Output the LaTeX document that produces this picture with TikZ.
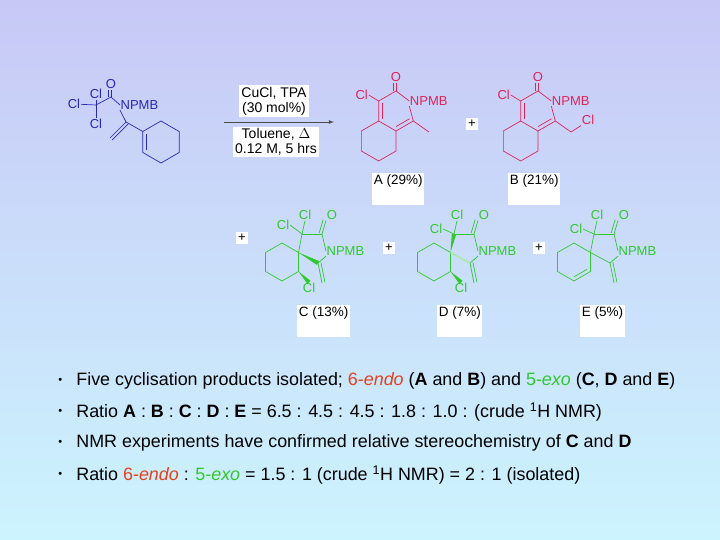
\documentclass[tikz,border=0pt]{standalone}
\usepackage{fontspec}
\setmainfont{Liberation Sans}
\usetikzlibrary{calc}
\definecolor{mblue}{HTML}{2828B8}
\definecolor{mred}{HTML}{E0245A}
\definecolor{mgreen}{HTML}{30C830}
\definecolor{lgreen}{HTML}{A8E8B0}
\definecolor{orng}{HTML}{E8401C}
\definecolor{bgtop}{HTML}{C8C8F6}
\definecolor{bgbot}{HTML}{CCF4FE}
\newcommand\hexat[3]{\foreach \k in {0,...,5}{\pgfmathsetmacro\ang{270+60*\k}\coordinate (#1\k) at ($(#2)+(\ang:#3)$);}}
\newcommand\dbl[2]{\draw (#1)--(#2); \draw ($(#1)!3pt!90:(#2)$)--($(#2)!3pt!-90:(#1)$);}
\newcommand\innerb[3]{\draw ($(#1)!0.22!(#3)$)--($(#2)!0.22!(#3)$);}
\newcommand\wdg[3]{\fill[#3] (#1) -- ($(#2)!2.2pt!90:(#1)$) -- ($(#2)!2.2pt!-90:(#1)$) -- cycle;}
\tikzset{
 atm/.style={inner sep=0.6pt,font=\fontsize{13}{13}\selectfont},
 atmw/.style={atm,anchor=west,inner sep=0.3pt},
 wbox/.style={fill=white,inner sep=2pt,font=\fontsize{14}{15}\selectfont,align=center},
 lbox/.style={fill=white,anchor=north west,inner sep=1.5pt,font=\fontsize{13.5}{15}\selectfont,align=left,text depth=19pt},
 plus/.style={fill=white,inner sep=2.5pt,font=\fontsize{13}{13}\selectfont},
 bul/.style={anchor=west,font=\fontsize{17.9}{20}\selectfont,inner sep=0pt},
}
\begin{document}
\begin{tikzpicture}[x=1pt,y=-1pt,line width=0.7pt]
\shade[top color=bgtop,bottom color=bgbot,draw=none] (0,0) rectangle (720,540);
\useasboundingbox (0,0) rectangle (720,540);

% ---------- starting material (blue)
\begin{scope}[mblue]
\coordinate (sC) at (96,105);
\coordinate (sK) at (111,97);
\node[atm] (sO) at (111,84) {O};
\node[atm] (sCl1) at (96,94) {Cl};
\node[atm] (sCl2) at (74,104) {Cl};
\node[atm] (sCl3) at (96,124) {Cl};
\node[atmw] (sN) at (120,105) {NPMB};
\coordinate (sV) at (126,122);
\coordinate (sM) at (110,138);
\coordinate (rc) at (161,142);
\hexat{sr}{rc}{21}
\draw (sCl2)--(sC); \draw (sCl1.south)--(sC); \draw (sC)--(sCl3.north);
\draw (sC)--(sK);
\dbl{sK}{sO.south}
\draw (sK)--(sN.west);
\draw (sN.south west)--(sV);
\dbl{sV}{sM}
\draw (sV)--(sr5);
\draw (sr0)--(sr1)--(sr2)--(sr3)--(sr4)--(sr5)--cycle;
\innerb{sr4}{sr5}{rc}
\end{scope}

% ---------- arrow and conditions
\coordinate (ar1) at (224,122);
\coordinate (ar2) at (334,122);
\draw[-latex,line width=0.8pt,black!70] (ar1)--(ar2);
\node[wbox] (cond1) at (274,101) {CuCl, TPA\\ (30 mol\%)};
\node[wbox] (cond2) at (276,142) {Toluene, $\Delta$\\ 0.12 M, 5 hrs};

% ---------- A and B (red)
\begin{scope}[mred]
\foreach \p/\cx in {A/396,B/538}{
 \coordinate (\p c) at (\cx,111);
 \hexat{\p}{\p c}{20}
 \coordinate (\p cc) at ($(\p c)+(120:34.64)$);
 \hexat{\p h}{\p cc}{20}
 \node[atm] (\p O) at ($(\p 0)+(0,-14)$) {O};
 \node[atm] (\p Cl) at ($(\p 5)+(-17,-6)$) {Cl};
 \node[atmw] (\p N) at ($(\p 1)+(-4,0)$) {NPMB};
 \dbl{\p 0}{\p O.south}
 \draw (\p 0)--(\p N.west);
 \draw (\p N.south west)--(\p 2)--(\p 3)--(\p 4)--(\p 5)--(\p 0);
 \draw (\p 5)--(\p Cl.east);
 \innerb{\p 4}{\p 5}{\p c}
 \innerb{\p 2}{\p 3}{\p c}
 \draw (\p h1)--(\p h2)--(\p h3)--(\p h4)--(\p h5)--(\p h0);
}
\coordinate (Ame) at (429,132);
\draw (A2)--(Ame);
\coordinate (Bch) at (571,132);
\node[atm] (BCl2) at (588,120) {Cl};
\draw (B2)--(Bch)--(BCl2.south west);
\end{scope}
\node[plus] (p1) at (472,124) {+};
\node[lbox] (labA) at (372,173) {A (29\%)};
\node[lbox] (labB) at (508,173) {B (21\%)};

% ---------- spiro products (green)
\newcommand\spiro[3]{% prefix, xshift, left Cl position
\begin{scope}[mgreen,xshift=#2]
 \coordinate (#1rc) at (282,262);
 \hexat{#1r}{#1rc}{19}
 \coordinate (#1s) at (#1r1);
 \coordinate (#1c2) at (302,234);
 \coordinate (#1c3) at (322,234);
 \node[atmw] (#1N) at (326,251) {NPMB};
 \coordinate (#1c5) at (318,263);
 \coordinate (#1m) at (322,283);
 \node[atm] (#1O) at (332,215) {O};
 \node[atm] (#1Clt) at (305,215) {Cl};
 \node[atm] (#1Cll) at #3 {Cl};
 \draw (#1r1)--(#1r2)--(#1r3)--(#1r4)--(#1r5)--(#1r0)--(#1r1);
 \draw (#1c2)--(#1c3); \draw (#1c3)--(#1N.west); \draw (#1N.south west)--(#1c5);
 \dbl{#1c3}{#1O.south west}
 \dbl{#1c5}{#1m}
 \draw (#1c2)--(#1Clt.south); \draw (#1c2)--(#1Cll.east);
\end{scope}}
\spiro{C}{0}{(283,225)}
\spiro{D}{152}{(284,229)}
\spiro{E}{292}{(284,229)}
\begin{scope}[mgreen]
 \draw (Cs)--(Cc2);
 \wdg{Cs}{Cc5}{mgreen}
 \node[atm] (CCl) at (309,288) {Cl};
 \wdg{Cr2}{CCl.north}{mgreen}
 \wdg{Ds}{Dc2}{mgreen}
 \draw[lgreen,line width=1.6pt] (Ds)--(Dc5);
 \node[atm] (DCl) at (461,288) {Cl};
 \wdg{Dr2}{DCl.north}{mgreen}
 \draw (Es)--(Ec2); \draw (Es)--(Ec5);
 \innerb{Er2}{Er3}{Erc}
\end{scope}
\node[plus] (p2) at (242,238) {+};
\node[plus] (p3) at (389,248) {+};
\node[plus] (p4) at (539,248) {+};
\node[lbox] (labC) at (297,305) {C (13\%)};
\node[lbox] (labD) at (437,305) {D (7\%)};
\node[lbox] (labE) at (580,305) {E (5\%)};

% ---------- bullets
\foreach \y [count=\i] in {381,412,443,475}{\node[bul] (dot\i) at (58,\y) {\fontsize{11}{11}\selectfont•};}
\node[bul] (t1) at (76,381) {Five cyclisation products isolated; \textcolor{orng}{6-\textit{endo}} (\textbf{A} and \textbf{B}) and \textcolor{mgreen}{5-\textit{exo}} (\textbf{C}, \textbf{D} and \textbf{E})};
\node[bul] (t2) at (76,412) {Ratio \textbf{A} : \textbf{B} : \textbf{C} : \textbf{D} : \textbf{E} = 6.5 : 4.5 : 4.5 : 1.8 : 1.0 : (crude \textsuperscript{1}H NMR)};
\node[bul] (t3) at (76,443) {NMR experiments have confirmed relative stereochemistry of \textbf{C} and \textbf{D}};
\node[bul] (t4) at (76,475) {Ratio \textcolor{orng}{6-\textit{endo}} : \textcolor{mgreen}{5-\textit{exo}} = 1.5 : 1 (crude \textsuperscript{1}H NMR) = 2 : 1 (isolated)};
\end{tikzpicture}
\end{document}
